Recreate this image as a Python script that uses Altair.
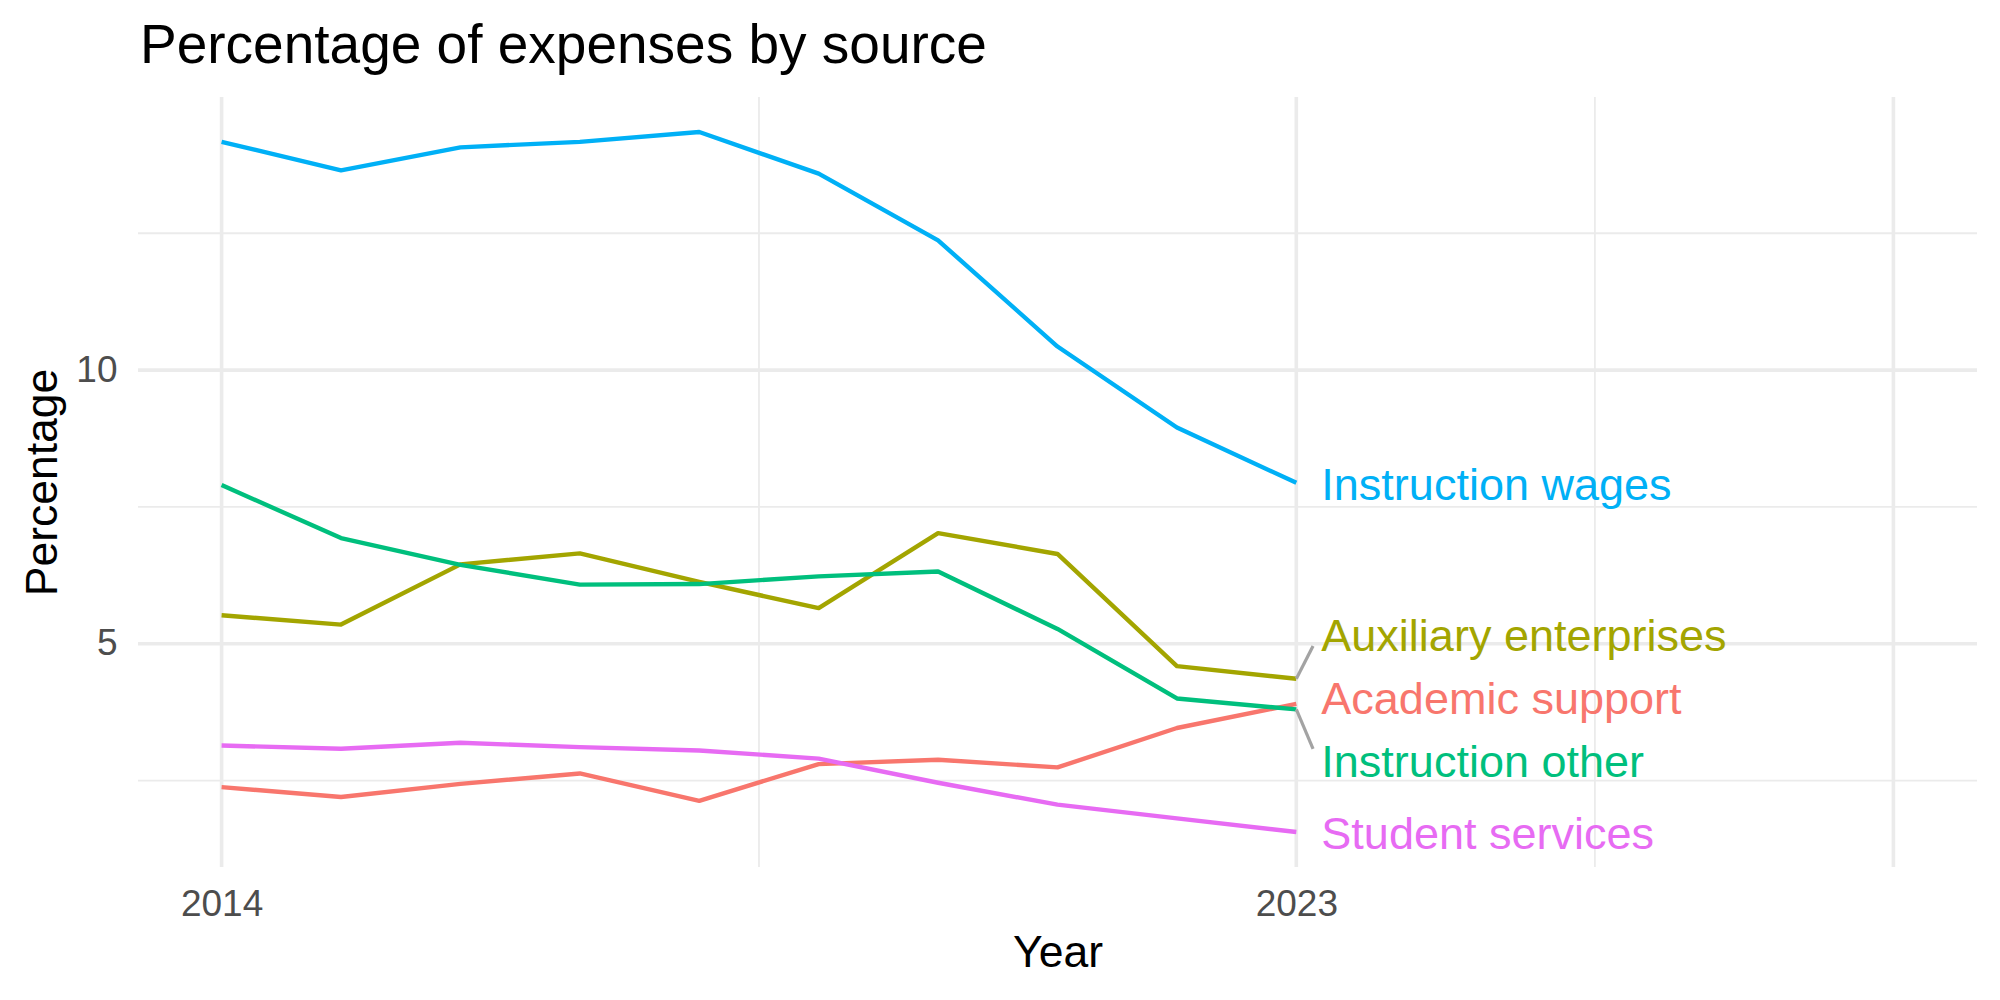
import altair as alt
import pandas as pd

# ---- data -------------------------------------------------------------
years = list(range(2014, 2024))

series_names = [
    "Academic support",
    "Auxiliary enterprises",
    "Instruction other",
    "Instruction wages",
    "Student services",
]
series_colors = ["#F8766D", "#A3A500", "#00BF7D", "#00B0F6", "#E76BF3"]

academic_support = [2.38, 2.20, 2.44, 2.63, 2.13, 2.80, 2.88, 2.74, 3.46, 3.90]
auxiliary_enterprises = [5.52, 5.35, 6.45, 6.65, 6.13, 5.65, 7.02, 6.64, 4.59, 4.36]
instruction_other = [7.90, 6.93, 6.44, 6.08, 6.09, 6.23, 6.32, 5.27, 4.00, 3.80]
instruction_wages = [14.17, 13.65, 14.07, 14.17, 14.35, 13.59, 12.37, 10.43, 8.95, 7.94]
student_services = [3.14, 3.08, 3.19, 3.11, 3.05, 2.90, 2.46, 2.06, 1.81, 1.56]

series_values = [
    academic_support,
    auxiliary_enterprises,
    instruction_other,
    instruction_wages,
    student_services,
]

chart_title = "Percentage of expenses by source"
x_tick_values = [2014, 2023]
y_tick_values = [5, 10]
x_major_grid = [2014, 2023, 2028]
x_minor_grid = [2018.5, 2025.5]
y_major_grid = [5, 10]
y_minor_grid = [2.5, 7.5, 12.5]

# ---- long table ---------------------------------------------------------
rows = []
for name, vals in zip(series_names, series_values):
    for yr, v in zip(years, vals):
        rows.append({"Year": yr, "Percentage": v, "Source": name})
df = pd.DataFrame(rows)

# scale domains with 5% expansion (x range reaches 2028 to make room for labels)
x_lo, x_hi = 2014, 2028
x_pad = 0.05 * (x_hi - x_lo)
x_domain = [x_lo - x_pad, x_hi + x_pad]
y_lo = min(min(v) for v in series_values)
y_hi = max(max(v) for v in series_values)
y_pad = 0.05 * (y_hi - y_lo)
y_domain = [y_lo - y_pad, y_hi + y_pad]

# ---- end labels: spread overlapping labels apart ------------------------
gap = 1.15
ends = sorted(
    [(n, vals[-1]) for n, vals in zip(series_names, series_values)],
    key=lambda t: -t[1],
)
clusters = []  # each: list of (name, value)


def positions(cluster):
    c = sum(v for _, v in cluster) / len(cluster)
    n = len(cluster)
    return [c + gap * ((n - 1) / 2 - i) for i in range(n)]


for item in ends:
    clusters.append([item])
    while len(clusters) > 1:
        upper, lower = clusters[-2], clusters[-1]
        if positions(upper)[-1] - positions(lower)[0] < gap:
            clusters[-2:] = [upper + lower]
        else:
            break

label_rows = []
seg_rows = []
last_year = years[-1]
for cl in clusters:
    for (name, v), ly in zip(cl, positions(cl)):
        label_rows.append({"Source": name, "Year": last_year, "y": ly})
        if abs(ly - v) > 0.5:
            sign = 1 if ly > v else -1
            seg_rows.append(
                {
                    "x": last_year,
                    "x2": last_year + 0.14,
                    "y": v,
                    "y2": ly - sign * 0.21,
                }
            )
labels_df = pd.DataFrame(label_rows)
seg_df = pd.DataFrame(seg_rows)

# ---- chart --------------------------------------------------------------
W, H = 1839, 770
FONT = "Liberation Sans"
GRID = "#EBEBEB"

xs = alt.Scale(domain=x_domain, nice=False, zero=False)
ys = alt.Scale(domain=y_domain, nice=False, zero=False)

x_axis = alt.Axis(
    values=x_tick_values,
    format="d",
    grid=False,
    domain=False,
    ticks=False,
    tickSize=0,
    labelFlush=False,
    labelOverlap=False,
    labelFont=FONT,
    labelFontSize=37,
    labelColor="#4D4D4D",
    labelBaseline="alphabetic",
    labelPadding=48,
    title="Year",
    titleFont=FONT,
    titleFontSize=44.5,
    titleFontWeight="normal",
    titleColor="black",
    titleBaseline="alphabetic",
    titleY=99,
)
y_axis = alt.Axis(
    values=y_tick_values,
    grid=False,
    domain=False,
    ticks=False,
    tickSize=0,
    labelFont=FONT,
    labelFontSize=37,
    labelColor="#4D4D4D",
    labelPadding=21,
    title="Percentage",
    titleFont=FONT,
    titleFontSize=44.5,
    titleFontWeight="normal",
    titleColor="black",
    titleAngle=270,
    titleBaseline="alphabetic",
    titleAlign="center",
    titleX=-82,
    titleY=H / 2,
)

color = alt.Color(
    "Source:N",
    scale=alt.Scale(domain=series_names, range=series_colors),
    legend=None,
)


def xq(field):
    return alt.X(field, type="quantitative", scale=xs, axis=x_axis, title="Year")


def yq(field):
    return alt.Y(field, type="quantitative", scale=ys, axis=y_axis, title="Percentage")


vgrid_minor = (
    alt.Chart(pd.DataFrame({"v": x_minor_grid}))
    .mark_rule(color=GRID, strokeWidth=1.8)
    .encode(x=xq("v"), y=alt.value(0), y2=alt.value(H))
)
vgrid_major = (
    alt.Chart(pd.DataFrame({"v": x_major_grid}))
    .mark_rule(color=GRID, strokeWidth=3.6)
    .encode(x=xq("v"), y=alt.value(0), y2=alt.value(H))
)
hgrid_minor = (
    alt.Chart(pd.DataFrame({"v": y_minor_grid}))
    .mark_rule(color=GRID, strokeWidth=1.8)
    .encode(y=yq("v"), x=alt.value(0), x2=alt.value(W))
)
hgrid_major = (
    alt.Chart(pd.DataFrame({"v": y_major_grid}))
    .mark_rule(color=GRID, strokeWidth=3.6)
    .encode(y=yq("v"), x=alt.value(0), x2=alt.value(W))
)

lines = (
    alt.Chart(df)
    .mark_line(strokeWidth=4.4, strokeJoin="round")
    .encode(
        x=xq("Year"),
        y=yq("Percentage"),
        color=color,
        detail="Source:N",
    )
)

segments = (
    alt.Chart(seg_df)
    .mark_rule(color="#A3A3A3", strokeWidth=3.2)
    .encode(
        x=xq("x"),
        x2="x2:Q",
        y=yq("y"),
        y2="y2:Q",
    )
)

labels = (
    alt.Chart(labels_df)
    .mark_text(
        align="left",
        baseline="alphabetic",
        dx=25,
        dy=17,
        font=FONT,
        fontSize=45,
    )
    .encode(
        x=xq("Year"),
        y=yq("y"),
        text="Source:N",
        color=color,
    )
)

# plot title, left-aligned with the panel
title = (
    alt.Chart(pd.DataFrame({"t": [chart_title]}))
    .mark_text(
        align="left",
        baseline="alphabetic",
        font=FONT,
        fontSize=55,
        color="black",
    )
    .encode(text="t:N", x=alt.value(2), y=alt.value(-34))
)

chart = (
    alt.layer(
        vgrid_minor, vgrid_major, hgrid_minor, hgrid_major, lines, segments, labels, title
    )
    .properties(
        width=W,
        height=H,
        autosize=alt.AutoSizeParams(type="none"),
        padding={"left": 138, "top": 97, "right": 23, "bottom": 133},
        background="white",
    )
    .configure_view(stroke=None)
)

chart.save("out.html", embed_options={"renderer": "svg", "actions": False})
